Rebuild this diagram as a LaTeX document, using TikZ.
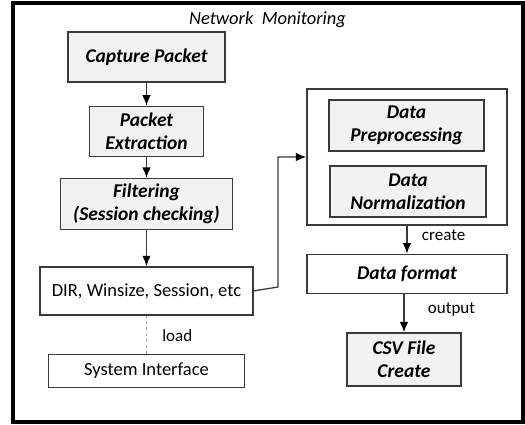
\documentclass[tikz,border=0pt]{standalone}
\usepackage{fontspec}
\setmainfont{Carlito}
\usetikzlibrary{arrows.meta}
\usetikzlibrary{positioning}
\definecolor{boxgray}{HTML}{F2F2F2}
\definecolor{linegray}{HTML}{3A3A3A}
\tikzstyle{block} = [rectangle, draw=linegray, line width=1.3pt, fill=boxgray, inner sep=0pt, font=\fontsize{19.5}{23}\selectfont\bfseries\itshape]
\tikzstyle{textbox} = [rectangle, draw=linegray, line width=1.3pt, fill=white, inner sep=0pt, font=\fontsize{18.5}{22}\selectfont]
\tikzstyle{line} = [draw=linegray, line width=1.3pt, -{Latex[length=10.5pt, width=8.5pt, color=black]}]
\tikzstyle{tag} = [text=black, font=\fontsize{17}{19}\selectfont]

\begin{document}
\begin{tikzpicture}[x=1pt, y=-1pt, every text node part/.style={align=center}]
   \useasboundingbox (0,0) rectangle (525,424);
   \draw[line width=3.5pt] (13,3) rectangle (523,422);
   % Place nodes
   \node [font=\fontsize{18.5}{20}\selectfont\itshape] (title) at (267.5,20) {Network~~Monitoring};
   \node [block, minimum width=157pt, minimum height=50pt] (capture) at (146.5,57) {Capture Packet};
   \node [block, minimum width=114pt, minimum height=50pt, below = 23pt of capture] (extract) {Packet \\ Extraction};
   \node [block, minimum width=172pt, minimum height=51pt, below = 21pt of extract] (filter) {Filtering \\ (Session checking)};
   \node [textbox, minimum width=213pt, minimum height=48pt, below = 36pt of filter] (dir) {DIR, Winsize, Session, etc};
   \node [textbox, minimum width=196pt, minimum height=33pt, below = 38pt of dir] (sysif) {System Interface};
   \node [draw=linegray, line width=1.3pt, minimum width=200pt, minimum height=136pt] (prep) at (407,157) {};
   \node [block, minimum width=155pt, minimum height=51pt] (preproc) at (406.5,125.5) {Data \\ Preprocessing};
   \node [block, minimum width=156pt, minimum height=51pt] (norm) at (408,191.5) {Data \\ Normalization};
   \node [textbox, font=\fontsize{19.5}{23}\selectfont\bfseries\itshape, minimum width=200pt, minimum height=39pt, below = 28pt of prep] (format) {Data format};
   \node [block, minimum width=114pt, minimum height=53pt] (csv) at (404,359.5) {CSV File \\ Create};
   \coordinate (turn) at (278,287);
   % Connect
   \draw[line] (capture) -- (extract);
   \draw[line] (extract) -- (filter);
   \draw[line] (filter) -- (dir);
   \draw[line] (dir.east) -- (turn) |- (prep.west);
   \draw[gray!70, dashed, line width=1pt] (sysif.north) -- node [tag, right = 12pt, yshift=-1pt] {load} (sysif.north |- dir.south);
   \draw[line] (prep) -- node [tag, right = 11pt, yshift=4pt] {create} (format);
   \draw[line] (format.south -| csv) -- node [tag, right = 20pt, yshift=4pt] {output} (csv);
\end{tikzpicture}
\end{document}
